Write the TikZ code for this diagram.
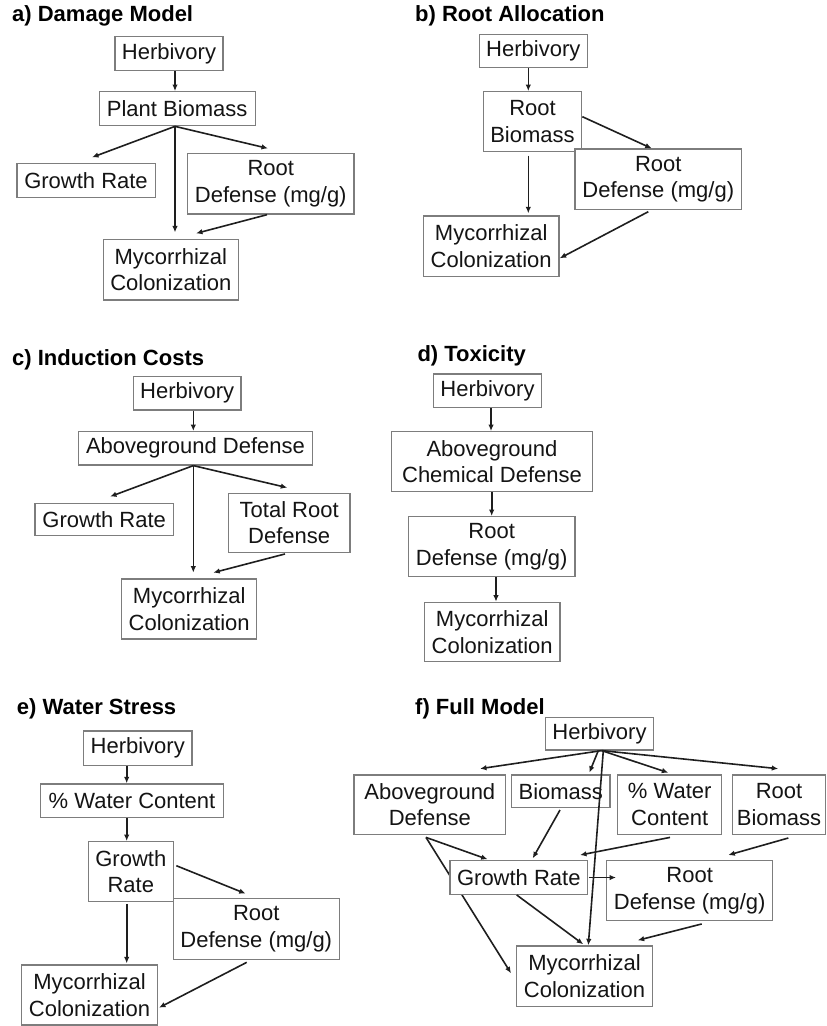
\documentclass[tikz,border=0pt]{standalone}
\usepackage{fontspec}
\setmainfont{Liberation Sans}
\usetikzlibrary{calc,arrows.meta,backgrounds}
\definecolor{boxgray}{RGB}{125,125,125}
\definecolor{linec}{RGB}{30,30,30}
\definecolor{textc}{RGB}{20,20,20}
\begin{document}
\begin{tikzpicture}[x=1pt,y=-1pt,
  box/.style={draw=boxgray,line width=1.3pt,fill=white,align=center,inner xsep=2pt,inner ysep=1pt,text=textc,font=\fontsize{22}{26.5}\selectfont},
  arr/.style={draw=linec,line width=1.6pt,-{Latex[length=6.5pt,width=5.5pt]}},
  ttl/.style={anchor=base west,inner sep=0pt,text=black,font=\fontsize{22}{26}\selectfont\bfseries}]
\useasboundingbox (0,0) rectangle (827,1026);

% ---------- a) Damage Model
\node[ttl] (ta) at (12,21) {a) Damage Model};
\node[box,minimum width=108,minimum height=34] (a1) at (169,53.7) {Herbivory};
\node[box,minimum width=156,minimum height=34] (a2) at (177.2,108.7) {Plant Biomass};
\node[box,minimum width=138.3,minimum height=34] (a3) at (86,180.3) {Growth Rate};
\node[box,minimum width=166.3,minimum height=60.7] (a4) at (270.8,183.7) {Root\\Defense (mg/g)};
\node[box,minimum width=135,minimum height=60.7] (a5) at (170.8,269.7) {Mycorrhizal\\Colonization};
\draw[arr] ($(a1.south)+(6,0)$) -- ($(a2.north)+(-2.2,0)$);
\draw[arr] ($(a2.south)+(-2.2,0)$) -- ($(a3.north)+(6,-5.3)$);
\draw[arr] ($(a2.south)+(-2.2,0)$) -- ($(a4.north)+(-2.8,-4.3)$);
\draw[arr] ($(a2.south)+(-2.2,0)$) -- ($(a5.north)+(4.2,-6.3)$);
\draw[arr] ($(a4.south)+(-3.8,0)$) -- ($(a5.north)+(25.2,-5.3)$);

% ---------- b) Root Allocation
\node[ttl] (tb) at (415,21.5) {b) Root Allocation};
\node[box,minimum width=108,minimum height=33.4] (b1) at (533.3,51) {Herbivory};
\node[box,minimum width=98.4,minimum height=60] (b2) at (532.5,121.7) {Root\\Biomass};
\node[box,minimum width=166.7,minimum height=60.3] (b3) at (658.3,179.2) {Root\\Defense (mg/g)};
\node[box,minimum width=135.7,minimum height=60.7] (b4) at (491.2,246.3) {Mycorrhizal\\Colonization};
\draw[arr] ($(b1.south)+(-5,0)$) -- ($(b2.north)+(-4.2,0)$);
\draw[arr] ($(b2.south)+(-4.2,3.3)$) -- ($(b4.north)+(37.1,-2)$);
\draw[arr] ($(b2.east)+(0,-5)$) -- ($(b3.north)+(-6.6,0)$);
\draw[arr] ($(b3.south)+(-10,1.7)$) -- ($(b4.east)+(0,12)$);

% ---------- c) Induction Costs
\node[ttl] (tc) at (12,365.7) {c) Induction Costs};
\node[box,minimum width=107.7,minimum height=33.3] (c1) at (187.2,393.3) {Herbivory};
\node[box,minimum width=234.4,minimum height=33.3] (c2) at (195.5,448.3) {Aboveground Defense};
\node[box,minimum width=138.3,minimum height=32.4] (c3) at (104.2,519.5) {Growth Rate};
\node[box,minimum width=121.7,minimum height=59] (c4) at (289.2,522.8) {Total Root\\Defense};
\node[box,minimum width=135,minimum height=60] (c5) at (189.2,609) {Mycorrhizal\\Colonization};
\draw[arr] ($(c1.south)+(6.1,0)$) -- ($(c2.north)+(-2.2,0)$);
\draw[arr] ($(c2.south)+(-2.2,0)$) -- ($(c3.north)+(5.8,-6)$);
\draw[arr] ($(c2.south)+(-2.2,0)$) -- ($(c4.north)+(-1.9,-5)$);
\draw[arr] ($(c2.south)+(-2.2,0)$) -- ($(c5.north)+(4.1,-5.7)$);
\draw[arr] ($(c4.south)+(-4.2,1)$) -- ($(c5.north)+(24.1,-5.7)$);

% ---------- d) Toxicity
\node[ttl] (td) at (417.3,361.7) {d) Toxicity};
\node[box,minimum width=108.4,minimum height=33.7] (d1) at (487.5,390.8) {Herbivory};
\node[box,minimum width=200.6,minimum height=60] (d2) at (492,461.7) {Aboveground\\Chemical Defense};
\node[box,minimum width=166.7,minimum height=60] (d3) at (491.7,546.7) {Root\\Defense (mg/g)};
\node[box,minimum width=135.7,minimum height=59.4] (d4) at (492.2,632) {Mycorrhizal\\Colonization};
\draw[arr] ($(d1.south)+(3.5,0)$) -- ($(d2.north)+(-1,0)$);
\draw[arr] ($(d2.south)+(-0.3,0)$) -- (d3.north);
\draw[arr] ($(d3.south)+(4.3,0)$) -- ($(d4.north)+(3.8,0)$);

% ---------- e) Water Stress
\node[ttl] (te) at (16.7,714) {e) Water Stress};
\node[box,minimum width=108.7,minimum height=34.3] (e1) at (137.7,748.2) {Herbivory};
\node[box,minimum width=182.6,minimum height=33.7] (e2) at (132,800.8) {\% Water Content};
\node[box,minimum width=85,minimum height=60] (e3) at (130.8,871.7) {Growth\\Rate};
\node[box,minimum width=166,minimum height=61] (e4) at (256.3,928.8) {Root\\Defense (mg/g)};
\node[box,minimum width=135.6,minimum height=60] (e5) at (89.5,995) {Mycorrhizal\\Colonization};
\draw[arr] ($(e1.south)+(-11,0)$) -- ($(e2.north)+(-5.3,0)$);
\draw[arr] ($(e2.south)+(-5.3,0)$) -- ($(e3.north)+(-4.1,0)$);
\draw[arr] ($(e3.south)+(-4.1,1.6)$) -- ($(e5.north)+(37.2,-1)$);
\draw[arr] ($(e3.east)+(2.4,-6)$) -- ($(e4.north)+(-10.6,-4)$);
\draw[arr] ($(e4.south)+(-9.6,2.4)$) -- ($(e5.east)+(1,12.7)$);

% ---------- f) Full Model
\node[ttl] (tf) at (415,714) {f) Full Model};
\node[box,minimum width=107.6,minimum height=32.3] (f1) at (599.5,733.8) {Herbivory};
\node[box,minimum width=151.7,minimum height=59.3] (f2) at (429.8,804.7) {Aboveground\\Defense};
\node[box,minimum width=98.3,minimum height=32.3] (f3) at (560.8,791.2) {Biomass};
\node[box,minimum width=104,minimum height=59.3] (f4) at (669.7,804.7) {\% Water\\Content};
\node[box,minimum width=93,minimum height=59.3] (f5) at (779,804.7) {Root\\Biomass};
\node[box,minimum width=137.7,minimum height=33.6] (f6) at (518.8,877.5) {Growth Rate};
\node[box,minimum width=166,minimum height=60] (f7) at (689.7,890.7) {Root\\Defense (mg/g)};
\node[box,minimum width=135.6,minimum height=60.7] (f8) at (584.5,976.3) {Mycorrhizal\\Colonization};
\begin{pgfonlayer}{background}
\draw[arr] ($(f2.south)+(-3.8,2.4)$) -- ($(f8.west)+(-5,-3)$);
\end{pgfonlayer}
\draw[arr] ($(f1.south)+(2.2,0)$) -- ($(f2.north)+(50.2,-5.7)$);
\draw[arr] ($(f1.south)+(-1.2,0)$) -- ($(f3.north)+(28.5,-1.7)$);
\draw[arr] ($(f1.south)+(3.8,0)$) -- ($(f8.north)+(3.8,0)$);
\draw[arr] ($(f1.south)+(2.2,0)$) -- ($(f4.north)+(-1.4,-1.7)$);
\draw[arr] ($(f1.south)+(2.2,0)$) -- ($(f5.north)+(-0.7,-5.7)$);
\draw[arr] ($(f2.south)+(-3.8,2.4)$) -- ($(f6.north)+(-31.1,-0.7)$);
\draw[arr] ($(f3.south)+(-0.8,2)$) -- ($(f6.north)+(13.9,-1.7)$);
\draw[arr] ($(f4.south)+(0.3,2.4)$) -- ($(f6.north)+(61.2,-5)$);
\draw[arr] ($(f5.south)+(9.3,3)$) -- ($(f7.north)+(38.6,-5)$);
\draw[arr] ($(f6.east)+(0.6,0)$) -- ($(f7.west)+(10,-13.2)$);
\draw[arr] ($(f6.south)+(-2.1,0)$) -- ($(f8.north)+(-1.2,-1)$);
\draw[arr] ($(f7.south)+(12,2.6)$) -- ($(f8.north)+(53.2,-5)$);
\end{tikzpicture}
\end{document}
